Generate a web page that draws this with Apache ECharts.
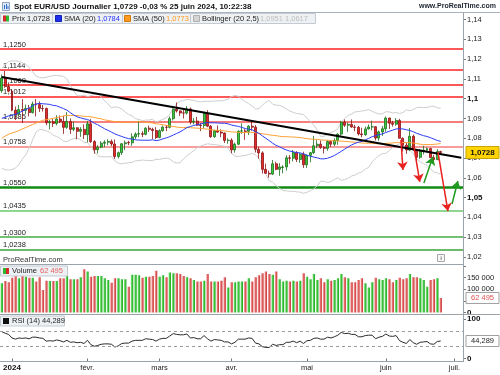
<!DOCTYPE html>
<html><head><meta charset="utf-8">
<script src="https://cdn.jsdelivr.net/npm/echarts@6/dist/echarts.min.js"></script>
<style>html,body{margin:0;padding:0;background:#fff;}#chart{width:500px;height:375px;}</style>
</head><body><div id="chart"></div>
<script>
// ---------- DATA ----------
const dates = [
'2023-12-27','2023-12-28','2023-12-29',
'2024-01-02','2024-01-03','2024-01-04','2024-01-05','2024-01-08','2024-01-09','2024-01-10','2024-01-11','2024-01-12',
'2024-01-15','2024-01-16','2024-01-17','2024-01-18','2024-01-19','2024-01-22','2024-01-23','2024-01-24','2024-01-25','2024-01-26',
'2024-01-29','2024-01-30','2024-01-31',
'2024-02-01','2024-02-02','2024-02-05','2024-02-06','2024-02-07','2024-02-08','2024-02-09','2024-02-12','2024-02-13','2024-02-14',
'2024-02-15','2024-02-16','2024-02-19','2024-02-20','2024-02-21','2024-02-22','2024-02-23','2024-02-26','2024-02-27','2024-02-28','2024-02-29',
'2024-03-01','2024-03-04','2024-03-05','2024-03-06','2024-03-07','2024-03-08','2024-03-11','2024-03-12','2024-03-13','2024-03-14',
'2024-03-15','2024-03-18','2024-03-19','2024-03-20','2024-03-21','2024-03-22','2024-03-25','2024-03-26','2024-03-27','2024-03-28','2024-03-29',
'2024-04-01','2024-04-02','2024-04-03','2024-04-04','2024-04-05','2024-04-08','2024-04-09','2024-04-10','2024-04-11','2024-04-12',
'2024-04-15','2024-04-16','2024-04-17','2024-04-18','2024-04-19','2024-04-22','2024-04-23','2024-04-24','2024-04-25','2024-04-26',
'2024-04-29','2024-04-30',
'2024-05-01','2024-05-02','2024-05-03','2024-05-06','2024-05-07','2024-05-08','2024-05-09','2024-05-10','2024-05-13','2024-05-14',
'2024-05-15','2024-05-16','2024-05-17','2024-05-20','2024-05-21','2024-05-22','2024-05-23','2024-05-24','2024-05-27','2024-05-28',
'2024-05-29','2024-05-30','2024-05-31',
'2024-06-03','2024-06-04','2024-06-05','2024-06-06','2024-06-07','2024-06-10','2024-06-11','2024-06-12','2024-06-13','2024-06-14',
'2024-06-17','2024-06-18','2024-06-19','2024-06-20','2024-06-21','2024-06-24','2024-06-25','2024-06-26','2024-06-27','2024-06-28',
'2024-07-01','2024-07-02','2024-07-03'];

const monthTickDates  = ['2024-01-02','2024-02-01','2024-03-01','2024-04-01','2024-05-01','2024-06-03','2024-07-01'];
const monthTickLabels = ['2024','févr.','mars','avr.','mai','juin','juil.'];

const opens = [1.1040,1.1104,1.1061,1.1038,1.0942,1.0921,1.0945,1.0941,1.0950,1.0930,
1.0973,1.0970,1.0951,1.0950,1.0878,1.0883,1.0875,1.0897,1.0885,1.0855,
1.0885,1.0845,1.0853,1.0835,1.0845,1.0818,1.0873,1.0783,1.0742,1.0755,
1.0775,1.0780,1.0784,1.0771,1.0708,1.0727,1.0772,1.0779,1.0777,1.0807,
1.0821,1.0823,1.0820,1.0851,1.0845,1.0839,1.0804,1.0838,1.0856,1.0855,
1.0899,1.0947,1.0938,1.0928,1.0927,1.0948,1.0882,1.0887,1.0866,1.0864,
1.0924,1.0861,1.0808,1.0838,1.0831,1.0826,1.0789,1.0790,1.0741,1.0770,
1.0836,1.0837,1.0835,1.0861,1.0856,1.0744,1.0726,1.0643,1.0623,1.0619,
1.0671,1.0643,1.0652,1.0655,1.0701,1.0699,1.0728,1.0693,1.0719,1.0666,
1.0714,1.0727,1.0762,1.0770,1.0753,1.0749,1.0783,1.0770,1.0789,1.0821,
1.0881,1.0866,1.0870,1.0857,1.0855,1.0822,1.0818,1.0847,1.0857,1.0858,
1.0801,1.0832,1.0848,1.0902,1.0876,1.0871,1.0890,1.0800,1.0765,1.0741,
1.0810,1.0741,1.0704,1.0733,1.0740,1.0748,1.0702,1.0692,1.0733];

const highs = [1.1122,1.1140,1.1078,1.1045,1.0960,1.0968,1.0998,1.0970,1.0968,1.0985,
1.0998,1.0986,1.0968,1.0955,1.0892,1.0898,1.0916,1.0915,1.0914,1.0932,
1.0900,1.0885,1.0855,1.0856,1.0870,1.0888,1.0897,1.0790,1.0765,1.0785,
1.0790,1.0795,1.0794,1.0794,1.0733,1.0775,1.0788,1.0787,1.0825,1.0830,
1.0888,1.0836,1.0856,1.0864,1.0853,1.0856,1.0845,1.0864,1.0867,1.0910,
1.0950,1.0981,1.0940,1.0945,1.0963,1.0955,1.0902,1.0908,1.0877,1.0930,
1.0942,1.0867,1.0843,1.0865,1.0845,1.0829,1.0800,1.0800,1.0778,1.0840,
1.0876,1.0846,1.0866,1.0885,1.0867,1.0757,1.0734,1.0672,1.0637,1.0690,
1.0681,1.0674,1.0664,1.0714,1.0715,1.0741,1.0735,1.0726,1.0732,1.0717,
1.0731,1.0812,1.0790,1.0789,1.0760,1.0790,1.0790,1.0800,1.0825,1.0888,
1.0895,1.0880,1.0895,1.0868,1.0862,1.0853,1.0859,1.0870,1.0889,1.0861,
1.0839,1.0862,1.0910,1.0904,1.0888,1.0902,1.0898,1.0804,1.0779,1.0852,
1.0819,1.0746,1.0745,1.0762,1.0753,1.0751,1.0716,1.0745,1.0737];

const lows = [1.1030,1.1055,1.1032,1.0937,1.0892,1.0916,1.0877,1.0922,1.0910,1.0925,
1.0910,1.0933,1.0935,1.0866,1.0845,1.0857,1.0865,1.0877,1.0822,1.0848,
1.0822,1.0836,1.0795,1.0807,1.0796,1.0779,1.0776,1.0722,1.0723,1.0750,
1.0755,1.0765,1.0760,1.0695,1.0698,1.0715,1.0740,1.0765,1.0762,1.0795,
1.0805,1.0806,1.0815,1.0832,1.0796,1.0796,1.0800,1.0833,1.0836,1.0850,
1.0890,1.0930,1.0913,1.0900,1.0920,1.0870,1.0870,1.0862,1.0836,1.0850,
1.0856,1.0802,1.0802,1.0828,1.0805,1.0776,1.0772,1.0724,1.0727,1.0765,
1.0822,1.0792,1.0816,1.0838,1.0728,1.0697,1.0622,1.0621,1.0601,1.0614,
1.0638,1.0610,1.0623,1.0637,1.0671,1.0683,1.0680,1.0676,1.0650,1.0650,
1.0679,1.0720,1.0750,1.0746,1.0723,1.0737,1.0756,1.0760,1.0767,1.0813,
1.0857,1.0833,1.0853,1.0835,1.0814,1.0805,1.0812,1.0844,1.0840,1.0789,
1.0787,1.0812,1.0833,1.0847,1.0859,1.0863,1.0800,1.0733,1.0721,1.0735,
1.0736,1.0668,1.0696,1.0718,1.0730,1.0700,1.0671,1.0690,1.0716];

const closes = [1.1104,1.1061,1.1038,1.0942,1.0921,1.0945,1.0941,1.0950,1.0930,1.0973,
1.0970,1.0951,1.0950,1.0878,1.0883,1.0875,1.0897,1.0885,1.0855,1.0885,
1.0845,1.0853,1.0835,1.0845,1.0818,1.0873,1.0783,1.0742,1.0755,1.0775,
1.0780,1.0784,1.0771,1.0708,1.0727,1.0772,1.0777,1.0777,1.0807,1.0821,
1.0823,1.0820,1.0851,1.0845,1.0839,1.0804,1.0838,1.0856,1.0855,1.0899,
1.0947,1.0938,1.0928,1.0927,1.0948,1.0882,1.0887,1.0866,1.0864,1.0924,
1.0861,1.0808,1.0838,1.0831,1.0826,1.0789,1.0790,1.0741,1.0770,1.0836,
1.0837,1.0835,1.0861,1.0856,1.0744,1.0726,1.0643,1.0623,1.0619,1.0671,
1.0643,1.0655,1.0655,1.0701,1.0699,1.0728,1.0693,1.0719,1.0666,1.0714,
1.0727,1.0762,1.0770,1.0753,1.0749,1.0783,1.0770,1.0789,1.0821,1.0881,
1.0866,1.0870,1.0857,1.0855,1.0822,1.0818,1.0847,1.0857,1.0858,1.0801,
1.0832,1.0848,1.0902,1.0876,1.0871,1.0890,1.0800,1.0765,1.0741,1.0810,
1.0741,1.0704,1.0733,1.0740,1.0748,1.0702,1.0692,1.0733,1.0728];

const sma20 = [1.0901,1.0906,1.0913,1.0916,1.0921,1.0928,1.0937,1.0945,1.0953,1.0964,
1.0973,1.0976,1.0974,1.0973,1.0971,1.0966,1.0964,1.0957,1.0950,1.0942,
1.0929,1.0918,1.0908,1.0903,1.0898,1.0895,1.0887,1.0876,1.0868,1.0858,
1.0848,1.0840,1.0831,1.0822,1.0815,1.0809,1.0803,1.0798,1.0796,1.0792,
1.0791,1.0790,1.0790,1.0790,1.0792,1.0788,1.0791,1.0797,1.0802,1.0808,
1.0816,1.0824,1.0832,1.0843,1.0854,1.0859,1.0865,1.0869,1.0872,1.0877,
1.0879,1.0878,1.0878,1.0877,1.0876,1.0876,1.0873,1.0867,1.0863,1.0860,
1.0855,1.0849,1.0846,1.0843,1.0832,1.0825,1.0812,1.0800,1.0788,1.0775,
1.0764,1.0757,1.0748,1.0741,1.0735,1.0732,1.0727,1.0726,1.0721,1.0714,
1.0709,1.0705,1.0701,1.0696,1.0696,1.0699,1.0705,1.0713,1.0723,1.0734,
1.0745,1.0756,1.0766,1.0774,1.0780,1.0784,1.0792,1.0799,1.0808,1.0813,
1.0818,1.0822,1.0829,1.0835,1.0841,1.0847,1.0848,1.0847,1.0843,1.0839,
1.0833,1.0825,1.0819,1.0813,1.0809,1.0803,1.0796,1.0789,1.0784];

const sma50 = [1.0800,1.0811,1.0820,1.0827,1.0832,1.0839,1.0847,1.0854,1.0862,1.0869,
1.0877,1.0884,1.0891,1.0894,1.0897,1.0901,1.0904,1.0909,1.0912,1.0916,
1.0915,1.0915,1.0915,1.0913,1.0911,1.0910,1.0908,1.0905,1.0901,1.0898,
1.0893,1.0890,1.0887,1.0884,1.0882,1.0881,1.0881,1.0881,1.0882,1.0883,
1.0884,1.0883,1.0880,1.0879,1.0877,1.0873,1.0871,1.0868,1.0865,1.0862,
1.0859,1.0857,1.0854,1.0854,1.0855,1.0853,1.0852,1.0851,1.0849,1.0848,
1.0846,1.0843,1.0841,1.0840,1.0839,1.0837,1.0835,1.0832,1.0831,1.0830,
1.0829,1.0829,1.0830,1.0830,1.0828,1.0825,1.0823,1.0820,1.0817,1.0815,
1.0813,1.0810,1.0808,1.0808,1.0807,1.0806,1.0805,1.0803,1.0801,1.0798,
1.0796,1.0795,1.0794,1.0792,1.0790,1.0790,1.0788,1.0787,1.0786,1.0786,
1.0784,1.0783,1.0781,1.0780,1.0778,1.0776,1.0775,1.0775,1.0775,1.0773,
1.0772,1.0773,1.0774,1.0775,1.0776,1.0778,1.0778,1.0779,1.0778,1.0778,
1.0776,1.0773,1.0770,1.0768,1.0768,1.0768,1.0769,1.0771,1.0773];

const bollUpper = [1.1154,1.1171,1.1188,1.1191,1.1191,1.1189,1.1180,1.1174,1.1157,1.1136,
1.1114,1.1107,1.1105,1.1108,1.1113,1.1116,1.1118,1.1115,1.1113,1.1100,
1.1066,1.1038,1.1015,1.1014,1.1018,1.1011,1.1015,1.1022,1.1024,1.1009,
1.0990,1.0973,1.0953,1.0959,1.0956,1.0948,1.0933,1.0920,1.0913,1.0899,
1.0895,1.0889,1.0892,1.0892,1.0896,1.0882,1.0888,1.0896,1.0903,1.0921,
1.0951,1.0973,1.0987,1.0990,1.0996,1.0994,1.0991,1.0986,1.0983,1.0987,
1.0986,1.0987,1.0988,1.0989,1.0989,1.0992,1.0997,1.1011,1.1016,1.1012,
1.0998,1.0985,1.0975,1.0963,1.0948,1.0950,1.0967,1.0982,1.0991,1.0972,
1.0967,1.0966,1.0959,1.0948,1.0937,1.0931,1.0925,1.0923,1.0919,1.0902,
1.0883,1.0867,1.0841,1.0809,1.0810,1.0821,1.0829,1.0836,1.0847,1.0880,
1.0899,1.0915,1.0923,1.0933,1.0935,1.0938,1.0940,1.0945,1.0936,1.0928,
1.0923,1.0923,1.0934,1.0933,1.0928,1.0930,1.0925,1.0930,1.0943,1.0939,
1.0945,1.0955,1.0956,1.0955,1.0955,1.0961,1.0962,1.0954,1.0951];

const bollLower = [1.0649,1.0641,1.0639,1.0642,1.0650,1.0667,1.0694,1.0716,1.0749,1.0791,
1.0831,1.0845,1.0843,1.0838,1.0830,1.0815,1.0809,1.0800,1.0786,1.0783,
1.0792,1.0798,1.0801,1.0793,1.0779,1.0778,1.0758,1.0731,1.0712,1.0706,
1.0706,1.0706,1.0708,1.0686,1.0674,1.0671,1.0674,1.0676,1.0678,1.0686,
1.0687,1.0690,1.0688,1.0688,1.0687,1.0694,1.0693,1.0697,1.0700,1.0695,
1.0681,1.0675,1.0676,1.0696,1.0712,1.0725,1.0738,1.0753,1.0761,1.0767,
1.0772,1.0770,1.0768,1.0766,1.0763,1.0759,1.0749,1.0724,1.0710,1.0708,
1.0711,1.0713,1.0718,1.0723,1.0717,1.0699,1.0658,1.0618,1.0585,1.0578,
1.0561,1.0547,1.0536,1.0534,1.0532,1.0532,1.0529,1.0528,1.0522,1.0527,
1.0535,1.0544,1.0560,1.0583,1.0582,1.0576,1.0581,1.0591,1.0600,1.0587,
1.0592,1.0597,1.0609,1.0614,1.0624,1.0630,1.0644,1.0653,1.0681,1.0697,
1.0713,1.0722,1.0724,1.0737,1.0754,1.0763,1.0772,1.0764,1.0742,1.0740,
1.0721,1.0695,1.0681,1.0671,1.0663,1.0646,1.0629,1.0625,1.0617];

const volumes = [126000,135000,130000,150000,157000,147000,157000,154000,150000,150000,
133000,152000,97000,137000,136000,136000,136000,147000,147000,157000,
143000,143000,143000,152000,186000,176000,154000,157000,157000,157000,
147000,140000,128000,147000,147000,143000,143000,111000,162000,162000,
160000,150000,154000,154000,157000,180000,154000,160000,152000,172000,
169000,169000,166000,157000,152000,147000,140000,133000,133000,137000,
166000,133000,133000,133000,137000,152000,108000,130000,130000,133000,
133000,133000,147000,133000,152000,160000,169000,176000,166000,162000,
176000,143000,133000,137000,133000,137000,133000,137000,169000,154000,
143000,166000,140000,147000,130000,143000,137000,140000,147000,166000,
152000,147000,130000,130000,140000,147000,126000,108000,130000,150000,
143000,140000,147000,143000,130000,140000,150000,143000,147000,166000,
152000,152000,147000,140000,111000,140000,143000,147000,62495];

const rsi14 = [68,64,61,52,49,52,51,52,50,54,
54,52,51,44,45,44,47,45,42,46,
41,42,40,41,38,46,35,31,33,36,
37,37,36,29,32,38,39,39,44,46,
46,46,50,49,48,44,49,51,51,57,
63,61,60,60,62,52,53,50,50,58,
50,44,48,47,46,42,42,37,41,49,
49,49,52,51,39,37,30,28,28,36,
33,35,35,41,41,44,40,44,38,45,
46,51,52,49,49,54,52,55,59,66,
63,64,61,61,55,55,58,59,59,50,
54,56,62,57,56,58,45,41,38,48,
40,36,41,42,43,37,36,43,44.289];

const levelValues = [1.1250,1.1144,1.1069,1.1012,1.0885,1.0758,1.0550,1.0435,1.0300,1.0238];
// trend line drawn on the chart: [bar index, price]
const trendLine = [[0,1.1109],[134,1.0701]];
// hand-drawn arrows: [[fromIdx, fromPrice],[toIdx, toPrice]]
const arrowsDown = [[[116.4,1.0791],[117.0,1.0640]],[[120.2,1.0756],[121.9,1.0579]],[[127.2,1.0730],[130.1,1.0432]]];
const arrowsUp   = [[[123.1,1.0574],[125.7,1.0705]],[[131.3,1.0468],[133.0,1.0584]]];

// ---------- STYLE ----------
const FONT = 'Liberation Sans';
const levelStyles = [
  {color:'#ff2020',width:1.5},{color:'#ff2020',width:1.5},{color:'#ff2020',width:1.5},{color:'#ff2020',width:1.5},
  {color:'#f45050',width:1.5},{color:'#f47a7a',width:1.5},
  {color:'#128a12',width:2.5},{color:'#8fd68f',width:2},{color:'#45ad45',width:1.5},{color:'#3aa53a',width:1.5}];

const fmt = (v, d) => v.toFixed(d).replace('.', ',');
const isTick = v => monthTickDates.indexOf(v) >= 0;

const candleData = closes.map((c,i) => [opens[i], c, lows[i], highs[i]]);
const upGrad = new echarts.graphic.LinearGradient(0,0,1,0,[{offset:0,color:'#9fe89f'},{offset:0.5,color:'#3cc83c'},{offset:1,color:'#22a022'}]);
const dnGrad = new echarts.graphic.LinearGradient(0,0,1,0,[{offset:0,color:'#f4b0b0'},{offset:0.5,color:'#e06262'},{offset:1,color:'#c83232'}]);
const volData = volumes.map((v,i) => ({value:v, itemStyle:{color: closes[i] >= opens[i] ? upGrad : dnGrad}}));

const PLOT_R = 37;
const yLabelRich = {b:{fontWeight:'bold',fontSize:8,fontFamily:FONT,color:'#111'}};
const option = {
  animation:false,
  textStyle:{fontFamily:FONT},
  grid:[
    {left:0, right:PLOT_R, top:19.5, height:237.5},
    {left:0, right:PLOT_R, top:266, height:46.5},
    {left:0, right:PLOT_R, top:319, height:39.5}
  ],
  xAxis:[
    {type:'category', gridIndex:0, data:dates, show:false, axisLine:{show:false, onZero:false}},
    {type:'category', gridIndex:1, data:dates, show:false, axisLine:{show:false, onZero:false}},
    {type:'category', gridIndex:2, data:dates, axisLine:{show:false, onZero:false},
      axisTick:{show:true, alignWithLabel:true, length:3, interval:(i,v)=>isTick(v), lineStyle:{color:'#777'}},
      axisLabel:{interval:(i,v)=>isTick(v), margin:5, fontSize:7.5, color:'#222', fontFamily:FONT,
        formatter:v=>{const k=monthTickDates.indexOf(v); if(k<0) return ''; return k===0?'{b|'+monthTickLabels[k]+'}':monthTickLabels[k];},
        rich:yLabelRich}},
    {type:'value', gridIndex:0, min:-0.5, max:134.5, show:false,
      axisLine:{show:false, onZero:false}, axisTick:{show:false}, axisLabel:{show:false}, splitLine:{show:false}}
  ],
  yAxis:[
    {type:'value', gridIndex:0, position:'right', min:1.02, max:1.14, interval:0.01,
      splitLine:{show:false}, axisLine:{show:false, onZero:false},
      axisTick:{show:true, length:3, lineStyle:{color:'#777'}},
      axisLabel:{margin:4, fontSize:7.5, color:'#222', fontFamily:FONT,
        formatter:v=>{const s=String(+v.toFixed(2)).replace('.',','); return Math.round(v*100)%5===0?'{b|'+s+'}':s;},
        rich:yLabelRich}},
    {type:'value', gridIndex:1, position:'right', min:0, max:200000, interval:50000,
      splitLine:{show:false}, axisLine:{show:false, onZero:false},
      axisTick:{show:true, length:3, lineStyle:{color:'#777'}},
      axisLabel:{margin:4, fontSize:7.5, color:'#222', fontFamily:FONT,
        formatter:v=>v===150000?'150 000':v===100000?'100 000':v===0?'{b|0}':'',
        rich:yLabelRich}},
    {type:'value', gridIndex:2, position:'right', min:0, max:100, interval:100,
      splitLine:{show:false}, axisLine:{show:false, onZero:false},
      axisTick:{show:true, length:3, lineStyle:{color:'#777'}},
      axisLabel:{margin:4, fontSize:7.5, color:'#222', fontFamily:FONT,
        formatter:v=>'{b|'+v+'}', rich:yLabelRich}}
  ],
  series:[
    {name:'BollUp', type:'line', xAxisIndex:0, yAxisIndex:0, data:bollUpper, showSymbol:false, z:1,
      lineStyle:{color:'#cdcdcd', width:1},
      markLine:{silent:true, z:1, symbol:'none', animation:false, precision:4,
        label:{show:true, position:'insideStartTop', distance:[3,0.5], fontSize:7.5, color:'#222', fontFamily:FONT},
        data:levelValues.map((v,i)=>({yAxis:v, lineStyle:Object.assign({type:'solid'}, levelStyles[i]),
          label:{formatter:fmt(v,4)}}))}},
    {name:'BollLow', type:'line', xAxisIndex:0, yAxisIndex:0, data:bollLower, showSymbol:false, z:1,
      lineStyle:{color:'#cdcdcd', width:1}},
    {name:'Prix', type:'candlestick', xAxisIndex:0, yAxisIndex:0, data:candleData, z:3, barWidth:'72%',
      itemStyle:{color:'#3cc83c', color0:'#e22a2a', borderColor:'#1d6e1d', borderColor0:'#8c1414', borderWidth:0.8}},
    {name:'SMA50', type:'line', xAxisIndex:0, yAxisIndex:0, data:sma50, showSymbol:false, z:4,
      lineStyle:{color:'#ffa033', width:1}},
    {name:'SMA20', type:'line', xAxisIndex:0, yAxisIndex:0, data:sma20, showSymbol:false, z:4,
      lineStyle:{color:'#2b3cf5', width:1}},
    {name:'Trend', type:'line', xAxisIndex:3, yAxisIndex:0, data:trendLine, showSymbol:false, z:5,
      lineStyle:{color:'#000', width:2},
      markLine:{silent:true, z:6, symbol:['none','arrow'], symbolSize:8, animation:false, precision:4, label:{show:false},
        data: arrowsDown.map(a=>[{coord:a[0], lineStyle:{color:'#e82020', width:1.5, type:'solid'}},{coord:a[1]}])
          .concat(arrowsUp.map(a=>[{coord:a[0], lineStyle:{color:'#1f9a1f', width:1.5, type:'solid'}},{coord:a[1]}]))}},
    {name:'Volume', type:'bar', xAxisIndex:1, yAxisIndex:1, data:volData, barWidth:'72%'},
    {name:'RSI', type:'line', xAxisIndex:2, yAxisIndex:2, data:rsi14, showSymbol:false,
      lineStyle:{color:'#2a2a2a', width:1},
      markLine:{silent:true, symbol:'none', animation:false, label:{show:false},
        lineStyle:{color:'#9a9a9a', type:[3,3], width:1},
        data:[{yAxis:70},{yAxis:30}]}}
  ]
};

const chart = echarts.init(document.getElementById('chart'));
chart.setOption(option);

const last = closes.length - 1;
const py = chart.convertToPixel({yAxisIndex:0}, closes[last]);
const vy = chart.convertToPixel({yAxisIndex:1}, volumes[last]);
const ry = chart.convertToPixel({yAxisIndex:2}, rsi14[last]);
const AX = 500 - PLOT_R;

function txt(x,y,text,font,fill,align){return {type:'text', x:x, y:y, silent:true, z:100,
  style:{text:text, font:font, fill:fill, align:align||'left', verticalAlign:'middle'}};}
function rect(x,y,w,h,fill,stroke){return {type:'rect', silent:true, z:90, shape:{x:x,y:y,width:w,height:h},
  style:{fill:fill, stroke:stroke||null, lineWidth:1}};}
function line(x1,y1,x2,y2,c){return {type:'line', silent:true, z:95, shape:{x1:x1,y1:y1,x2:x2,y2:y2},
  style:{stroke:c, lineWidth:1}};}

const F = FONT;
const g = [
  // title
  rect(2.5,2.5,7,8,'#dfe8f4','#8aa2c4'),
  line(4.5,9,4.5,5,'#2f6fd0'), line(6.5,9,6.5,4,'#2f6fd0'), line(8,9,8,6,'#2f6fd0'),
  txt(14,6.5,'Spot EUR/USD Journalier 1,0729 -0,03 % 25 juin 2024, 10:22:38','bold 8px '+F,'#111'),
  txt(496,6.5,'www.ProRealTime.com','bold 7px '+F,'#1c2430','right'),
  line(0,12.5,500,12.5,'#a9b3bd'),
  // legend row
  rect(0.5,13.5,315,10,'#eef1f4','#c3cad2'),
  line(52.5,13.5,52.5,23.5,'#c3cad2'), line(122.5,13.5,122.5,23.5,'#c3cad2'), line(190.5,13.5,190.5,23.5,'#c3cad2'),
  rect(3,15.5,3,6,'#d42a2a'), rect(6,15.5,3,6,'#2fb82f'),
  txt(12,18.7,'Prix 1,0728','7.5px '+F,'#222'),
  rect(55.5,15.5,6,6,'#1f2ff0','#1020b0'),
  txt(64,18.7,'SMA (20)','7.5px '+F,'#222'), txt(97,18.7,'1,0784','7.5px '+F,'#2633ff'),
  rect(124.5,15.5,6,6,'#ff9a1e','#d07a10'),
  txt(133,18.7,'SMA (50)','7.5px '+F,'#222'), txt(166,18.7,'1,0773','7.5px '+F,'#ff9a1e'),
  rect(193.5,15.5,6,6,'#d4d4d4','#b0b0b0'),
  txt(202,18.7,'Bollinger (20 2,5)','7.5px '+F,'#222'), txt(260,18.7,'1,0951 1,0617','7.5px '+F,'#bdbdbd'),
  // frames
  line(AX+0.5,12.5,AX+0.5,362,'#9aa2aa'),
  line(0,264.5,AX,264.5,'#9aa2aa'),
  line(0,314.5,500,314.5,'#9aa2aa'),
  line(0,361.5,AX,361.5,'#9aa2aa'),
  txt(3,260,'ProRealTime.com','7.5px '+F,'#333'),
  rect(437.5,254.5,7,7,'#f6f6f6','#a8a8a8'), txt(441,258.3,'i','bold 6px '+F,'#777','center'),
  // volume legend
  rect(0.5,266,67,10,'#eef1f4','#c3cad2'),
  rect(3,268,3,6,'#2fb82f'), rect(6,268,3,6,'#d42a2a'),
  txt(12,271.3,'Volume','7.5px '+F,'#222'), txt(40,271.3,'62 495','7.5px '+F,'#e06060'),
  // rsi legend
  rect(0.5,316,64,10,'#eef1f4','#c3cad2'),
  rect(3,318,6,6,'#111'),
  txt(12,321.3,'RSI (14) 44,289','7.5px '+F,'#222'),
  // last value boxes
  rect(AX+3,py-6,33,12,'#ffd400','#c8a400'),
  txt(AX+19.5,py+0.3,fmt(closes[last],4),'bold 8px '+F,'#111','center'),
  rect(AX+3,vy-5.5,33,11,'#ffffff','#a0a0a0'),
  txt(AX+19.5,vy+0.3,'62 495','7.5px '+F,'#e05050','center'),
  rect(AX+3,ry-5.5,33,11,'#ffffff','#a0a0a0'),
  txt(AX+19.5,ry+0.3,fmt(rsi14[last],3),'7.5px '+F,'#222','center')
];
chart.setOption({graphic:g});
</script></body></html>
